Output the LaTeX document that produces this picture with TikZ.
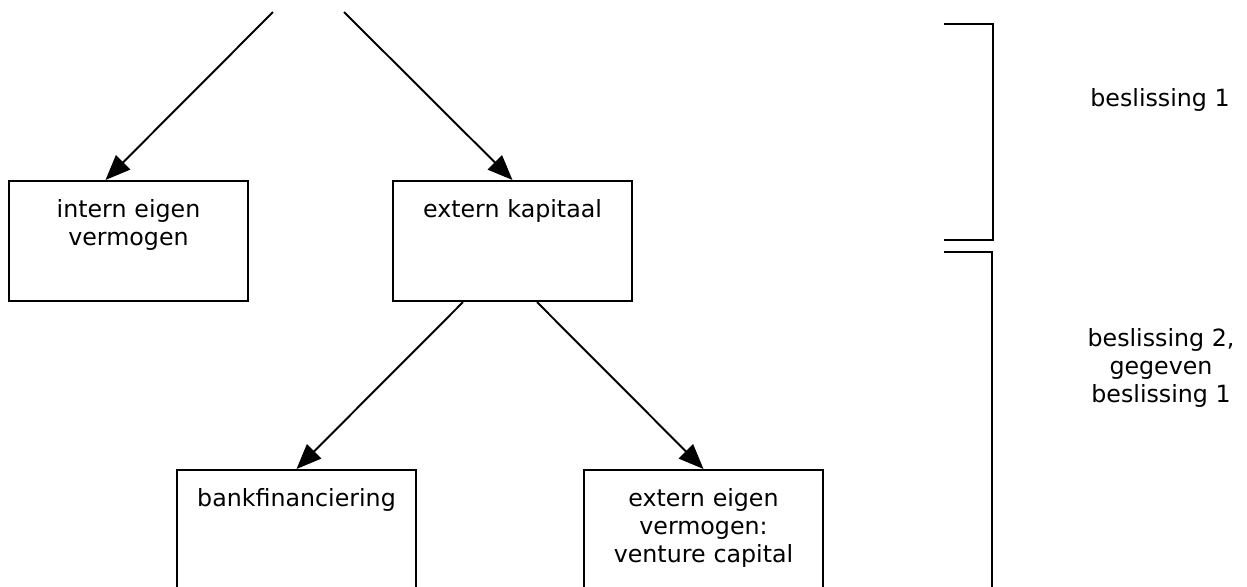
\documentclass[tikz,border=0pt]{standalone}
\usepackage{fontspec}
\setmainfont{DejaVu Sans}
\usetikzlibrary{arrows.meta, positioning, calc}

\tikzset{
  keuze/.style={draw, line width=1.2pt, inner xsep=0pt, inner ysep=0pt, text width=4.78cm,
    align=center, text height=0.72cm, text depth=1.68cm, anchor=north},
  keuzelaag/.style={keuze, text depth=2.2cm},
  pijl/.style={line width=1.1pt, -{Triangle[length=0.5cm, width=0.4cm]}},
  haak/.style={line width=1.2pt},
  uitleg/.style={align=center, inner sep=0pt, anchor=north}
}

\begin{document}
\begin{tikzpicture}[x=0.02cm, y=-0.02cm, font=\fontsize{13.5pt}{16pt}\selectfont]
  \useasboundingbox (0,0) rectangle (1247,586);

  % open ends of the two top arrows
  \coordinate (startL) at (273,12);
  \coordinate (startR) at (344,12);

  % first decision
  \node[keuze] (intern) at (128.5,180) {intern eigen\\vermogen};
  \node[keuze] (extkap) at (512.5,180) {extern kapitaal};

  % second decision
  \node[keuzelaag] (bank) at (296.5,469) {bankfinanciering};
  \node[keuzelaag] (venture) at (703.5,469) {extern eigen\\vermogen:\\venture capital};

  \draw[pijl] (startL) -- ($(intern.north)+(-23,0)$);
  \draw[pijl] (startR) -- (extkap.north);
  \draw[pijl] ($(extkap.south)+(-49.5,0)$) -- (bank.north);
  \draw[pijl] ($(extkap.south)+(24.5,0)$) -- (venture.north);

  % brackets on the right
  \draw[haak] (944,24) -- (993,24) -- (993,240) -- (944,240);
  \draw[haak] (944,252) -- (992,252) -- (992,600);

  \node[uitleg] (besl1) at (1160,88) {beslissing 1};
  \node[uitleg] (besl2) at (1161,328) {beslissing 2,\\gegeven\\beslissing 1};
\end{tikzpicture}
\end{document}
